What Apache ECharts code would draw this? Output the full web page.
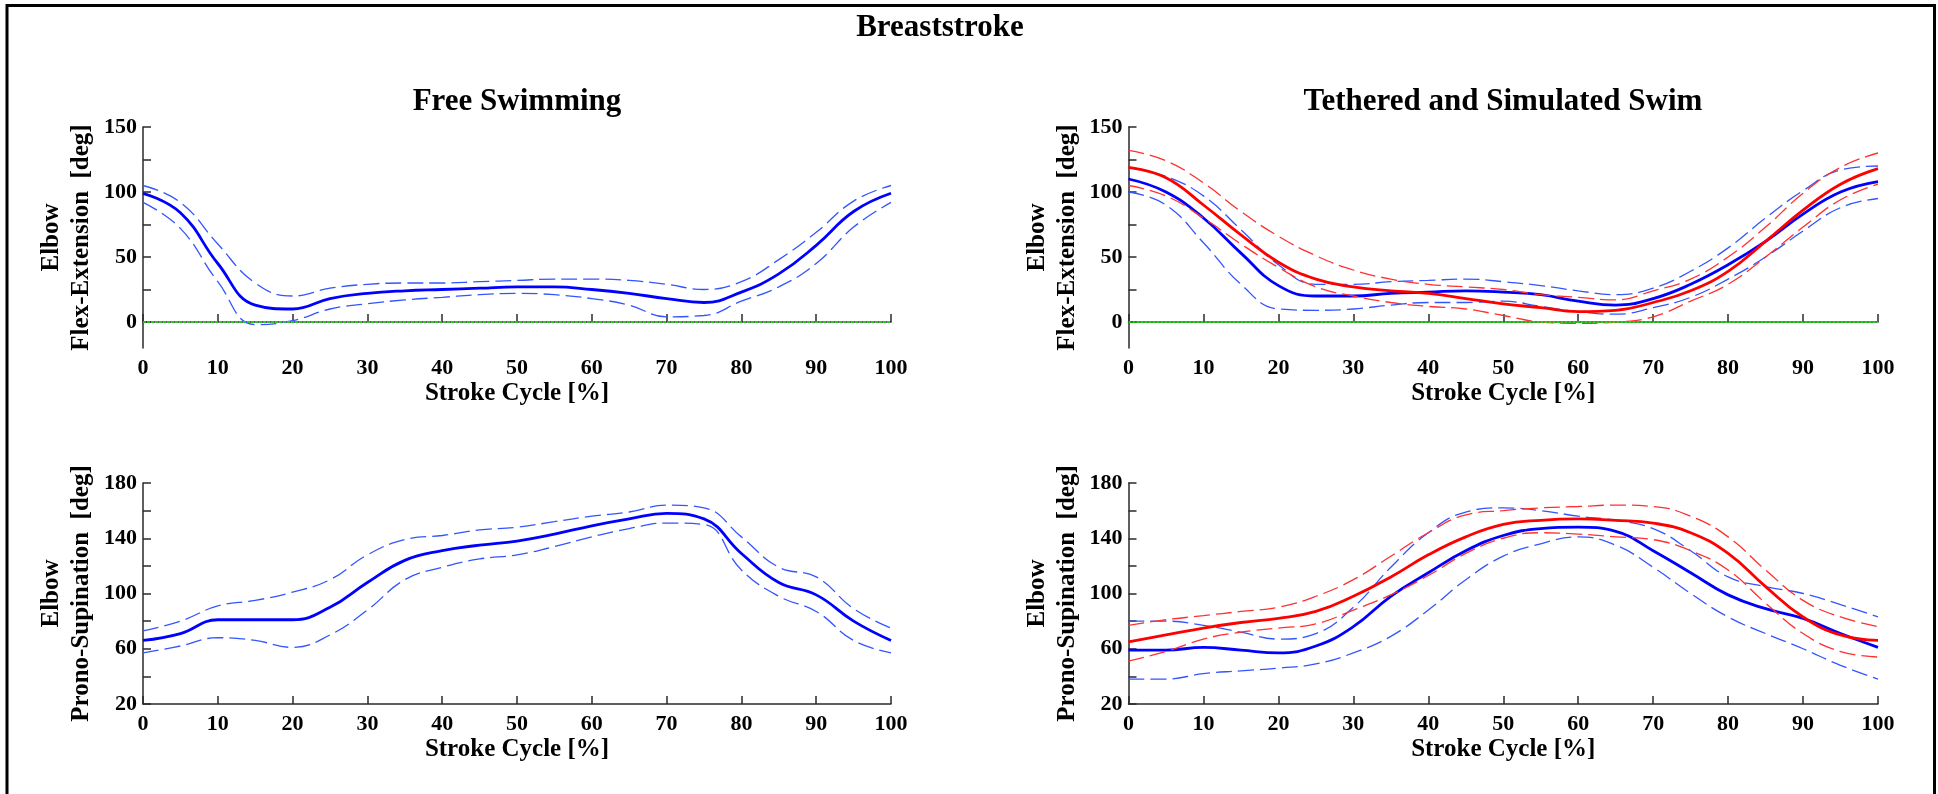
<!DOCTYPE html>
<html>
<head>
<meta charset="utf-8">
<title>Breaststroke</title>
<script src="https://cdn.jsdelivr.net/npm/echarts@6/dist/echarts.min.js"></script>
<style>
  html, body { margin: 0; padding: 0; background: #fff; }
  #main { width: 1938px; height: 794px; }
</style>
</head>
<body>
<div id="main"></div>
<script>
// stroke cycle samples [%]
const strokeCycle = [0, 5, 10, 15, 20, 25, 30, 35, 40, 45, 50, 55, 60, 65, 70, 75, 80, 85, 90, 95, 100];

// elbow flex-extension, free swimming
const freeFlexMean  = [99, 84, 45, 13, 10, 18, 22, 24, 25, 26, 27, 27, 25, 22, 18, 15, 23, 37, 59, 85, 99];
const freeFlexUpper = [105, 92, 60, 30, 20, 26, 29, 30, 30, 31, 32, 33, 33, 32, 29, 25, 31, 48, 69, 93, 105];
const freeFlexLower = [92, 72, 31, -2, 1, 10, 14, 17, 19, 21, 22, 21, 18, 13, 4, 5, 16, 27, 45, 73, 92];

// elbow flex-extension, tethered (blue) and simulated (red)
const tethFlexBlueMean  = [110, 100, 80, 53, 28, 20, 20, 22, 23, 24, 23, 21, 16, 13, 18, 29, 44, 62, 83, 100, 108];
const tethFlexBlueUpper = [119, 112, 97, 71, 44, 29, 29, 31, 32, 33, 31, 28, 24, 21, 26, 39, 57, 80, 101, 117, 120];
const tethFlexBlueLower = [100, 90, 61, 29, 10, 9, 10, 13, 15, 15, 16, 12, 8, 6, 11, 19, 33, 50, 70, 88, 95];
const simFlexRedMean  = [119, 111, 90, 67, 46, 33, 27, 24, 22, 18, 14, 11, 8, 9, 15, 24, 39, 62, 86, 106, 118];
const simFlexRedUpper = [132, 124, 107, 85, 66, 51, 40, 33, 29, 27, 25, 21, 19, 17, 24, 33, 50, 73, 99, 119, 130];
const simFlexRedLower = [105, 97, 80, 60, 42, 27, 20, 15, 12, 10, 5, 0, -1, 0, 4, 16, 29, 50, 73, 94, 106];

// elbow prono-supination, free swimming
const freeProMean  = [66, 71, 81, 81, 81, 90, 108, 124, 131, 135, 138, 143, 149, 154, 158, 154, 129, 108, 99, 80, 66];
const freeProUpper = [73, 80, 91, 95, 101, 110, 128, 139, 142, 146, 148, 152, 156, 159, 164, 162, 141, 119, 112, 89, 75];
const freeProLower = [57, 62, 68, 66, 61, 70, 88, 110, 119, 125, 128, 134, 141, 147, 151, 150, 117, 98, 87, 66, 57];

// elbow prono-supination, tethered (blue) and simulated (red)
const tethProBlueMean  = [59, 59, 61, 59, 57, 62, 76, 98, 115, 131, 142, 147, 148, 145, 131, 115, 99, 89, 82, 71, 61];
const tethProBlueUpper = [80, 80, 77, 72, 67, 71, 90, 119, 144, 159, 162, 160, 156, 153, 147, 131, 112, 105, 100, 92, 83];
const tethProBlueLower = [38, 38, 42, 44, 46, 49, 57, 69, 88, 110, 127, 136, 141, 135, 119, 100, 83, 71, 60, 48, 38];
const simProRedMean  = [65, 70, 75, 79, 82, 87, 98, 112, 128, 141, 150, 153, 154, 153, 151, 144, 129, 105, 83, 70, 66];
const simProRedUpper = [77, 81, 84, 87, 90, 98, 110, 127, 144, 157, 160, 162, 163, 164, 163, 156, 141, 117, 95, 83, 76];
const simProRedLower = [51, 58, 67, 72, 75, 78, 88, 99, 113, 129, 140, 144, 143, 141, 139, 131, 117, 93, 71, 58, 54];

// y axis ticks / labels
const flexLabels = [0, 50, 100, 150];
const flexTicks = [0, 25, 50, 75, 100, 125, 150];
const proLabels = [20, 60, 100, 140, 180];
const proTicks = [20, 40, 60, 80, 100, 120, 140, 160, 180];

const SERIF = '"Liberation Serif", "Times New Roman", serif';
const BLUE = '#0000ff', BLUE_D = '#3355ff', RED = '#ff0000', RED_D = '#ff3030';

const chart = echarts.init(document.getElementById('main'));

function xAxisFor(gridIndex) {
    return {
        gridIndex: gridIndex, type: 'value', min: 0, max: 100, interval: 10,
        name: 'Stroke Cycle [%]', nameLocation: 'middle', nameGap: 33,
        nameTextStyle: { fontFamily: SERIF, fontWeight: 'bold', fontSize: 25, color: '#000' },
        axisLine: { lineStyle: { color: '#2a2a2a', width: 1.5 } },
        axisTick: { inside: true, length: 8, lineStyle: { color: '#2a2a2a', width: 1.5 } },
        axisLabel: { fontFamily: SERIF, fontWeight: 'bold', fontSize: 22, color: '#000', margin: 9 },
        splitLine: { show: false }
    };
}

function yAxisFor(gridIndex, min, max, labels, ticks, name) {
    return {
        gridIndex: gridIndex, type: 'value', min: min, max: max,
        name: name, nameLocation: 'middle', nameGap: 46, nameRotate: 90,
        nameTextStyle: { fontFamily: SERIF, fontWeight: 'bold', fontSize: 25, lineHeight: 30, color: '#000' },
        axisLine: { show: true, lineStyle: { color: '#2a2a2a', width: 1.5 } },
        axisTick: { inside: true, length: 8, customValues: ticks, lineStyle: { color: '#2a2a2a', width: 1.5 } },
        axisLabel: { fontFamily: SERIF, fontWeight: 'bold', fontSize: 22, color: '#000', margin: 6, customValues: labels },
        splitLine: { show: false }
    };
}

//一条曲线
function curve(idx, values, color, width, dashed) {
    return {
        type: 'line', xAxisIndex: idx, yAxisIndex: idx,
        data: strokeCycle.map((x, i) => [x, values[i]]),
        smooth: 0.45, showSymbol: false, silent: true,
        lineStyle: { color: color, width: width, type: dashed ? [16, 6] : 'solid' }
    };
}

// green zero line for the flex-extension plots
function zeroLine(idx) {
    return {
        type: 'line', xAxisIndex: idx, yAxisIndex: idx, data: [], silent: true,
        markLine: {
            symbol: 'none', silent: true, label: { show: false },
            lineStyle: { color: '#00ff00', type: [3, 1], width: 1.5, opacity: 1 },
            emphasis: { disabled: true },
            data: [{ yAxis: 0 }]
        }
    };
}

const flexName = 'Elbow\nFlex-Extension  [deg]';
const proName = 'Elbow\nProno-Supination  [deg]';

chart.setOption({
    animation: false,
    backgroundColor: '#fff',
    graphic: [
        { type: 'polyline', shape: { points: [[7, 800], [7, 5.5], [1934.5, 5.5], [1934.5, 800]] },
          style: { stroke: '#000', lineWidth: 3, fill: null } },
        { type: 'text', x: 940, y: 27.5, style: { text: 'Breaststroke', fontFamily: SERIF, fontWeight: 'bold', fontSize: 31, fill: '#000', align: 'center', verticalAlign: 'middle' } },
        { type: 'text', x: 517, y: 102, style: { text: 'Free Swimming', fontFamily: SERIF, fontWeight: 'bold', fontSize: 31, fill: '#000', align: 'center', verticalAlign: 'middle' } },
        { type: 'text', x: 1503, y: 102, style: { text: 'Tethered and Simulated Swim', fontFamily: SERIF, fontWeight: 'bold', fontSize: 31, fill: '#000', align: 'center', verticalAlign: 'middle' } }
    ],
    grid: [
        { left: 143, top: 127, width: 748, height: 221 },
        { left: 1128.5, top: 127, width: 749.5, height: 221 },
        { left: 143, top: 483, width: 748, height: 221 },
        { left: 1128.5, top: 483, width: 749.5, height: 221 }
    ],
    xAxis: [xAxisFor(0), xAxisFor(1), xAxisFor(2), xAxisFor(3)],
    yAxis: [
        yAxisFor(0, -20, 150, flexLabels, flexTicks, flexName),
        yAxisFor(1, -20, 150, flexLabels, flexTicks, flexName),
        yAxisFor(2, 20, 180, proLabels, proTicks, proName),
        yAxisFor(3, 20, 180, proLabels, proTicks, proName)
    ],
    series: [
        zeroLine(0),
        curve(0, freeFlexUpper, BLUE_D, 1.3, true),
        curve(0, freeFlexLower, BLUE_D, 1.3, true),
        curve(0, freeFlexMean, BLUE, 2.8, false),

        zeroLine(1),
        curve(1, tethFlexBlueUpper, BLUE_D, 1.3, true),
        curve(1, tethFlexBlueLower, BLUE_D, 1.3, true),
        curve(1, tethFlexBlueMean, BLUE, 2.8, false),
        curve(1, simFlexRedUpper, RED_D, 1.3, true),
        curve(1, simFlexRedLower, RED_D, 1.3, true),
        curve(1, simFlexRedMean, RED, 2.8, false),

        curve(2, freeProUpper, BLUE_D, 1.3, true),
        curve(2, freeProLower, BLUE_D, 1.3, true),
        curve(2, freeProMean, BLUE, 2.8, false),

        curve(3, tethProBlueUpper, BLUE_D, 1.3, true),
        curve(3, tethProBlueLower, BLUE_D, 1.3, true),
        curve(3, tethProBlueMean, BLUE, 2.8, false),
        curve(3, simProRedUpper, RED_D, 1.3, true),
        curve(3, simProRedLower, RED_D, 1.3, true),
        curve(3, simProRedMean, RED, 2.8, false)
    ]
});
</script>
</body>
</html>
